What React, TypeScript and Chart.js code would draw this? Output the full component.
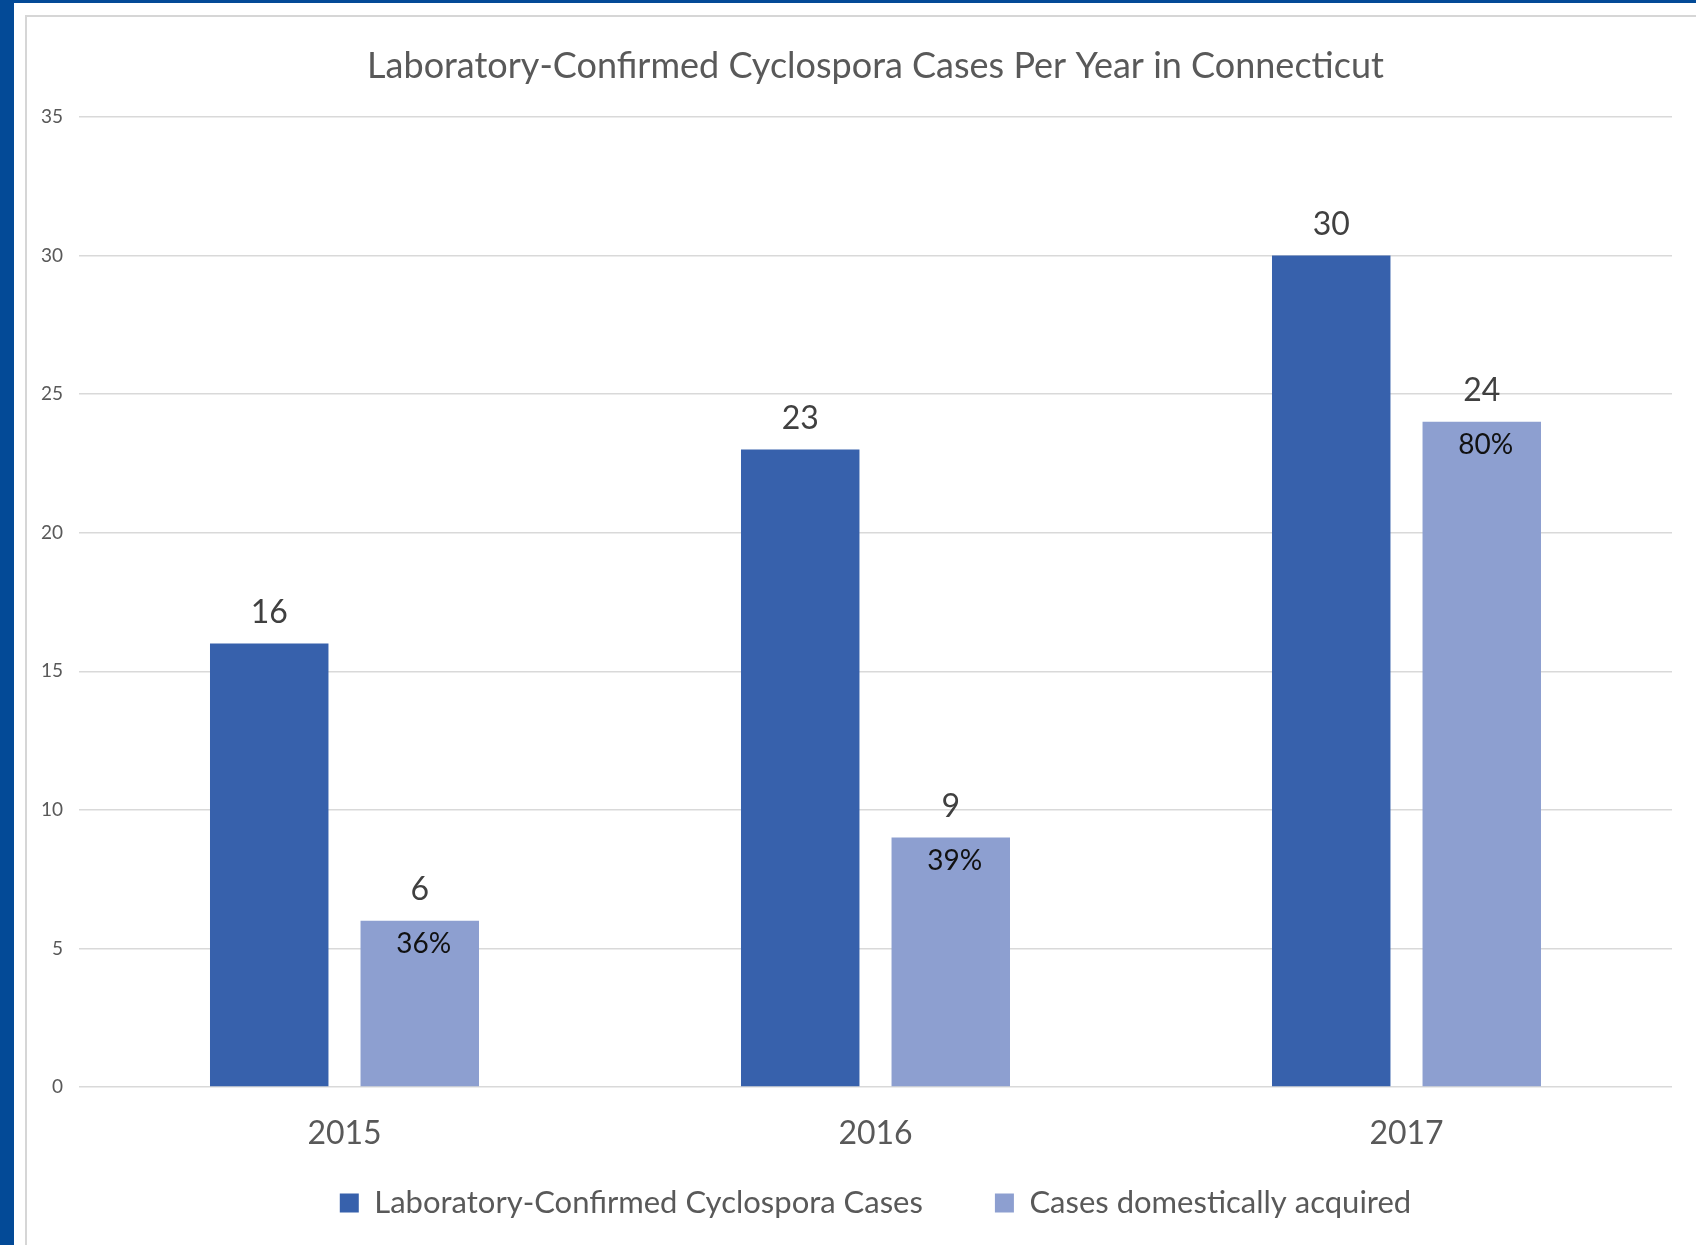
import React, { useEffect, useRef } from "react";
import { Chart, registerables } from "chart.js";

Chart.register(...registerables);

const categories = ["2015", "2016", "2017"];
const labConfirmed = [16, 23, 30];
const domestic = [6, 9, 24];
const domesticPct = ["36%", "39%", "80%"];
const yTicks = [0, 5, 10, 15, 20, 25, 30, 35];
const seriesNames = ["Laboratory-Confirmed Cyclospora Cases", "Cases domestically acquired"];
const titleText = "Laboratory-Confirmed Cyclospora Cases Per Year in Connecticut";

const FONT = "Lato, 'Noto Sans', sans-serif";

const labelPlugin = {
  id: "barLabels",
  afterDatasetsDraw(chart: any) {
    const ctx = chart.ctx;
    ctx.save();
    chart.data.datasets.forEach((ds: any, di: number) => {
      const meta = chart.getDatasetMeta(di);
      meta.data.forEach((bar: any, i: number) => {
        ctx.font = `32px ${FONT}`;
        ctx.fillStyle = "#404040";
        ctx.textAlign = "center";
        ctx.textBaseline = "alphabetic";
        ctx.fillText(String(ds.data[i]), bar.x, bar.y - 21);
        if (di === 1) {
          ctx.font = `28px ${FONT}`;
          ctx.fillStyle = "#111111";
          ctx.textBaseline = "middle";
          ctx.fillText(domesticPct[i], bar.x + 4, bar.y + 23);
        }
      });
    });
    ctx.restore();
  },
};

// The reference legend has wide item spacing but sits close to the axis labels;
// place the legend box explicitly after layout.
const legendPlace = {
  id: "legendPlace",
  afterLayout(chart: any) {
    const lg = chart.legend;
    if (!lg) return;
    lg.top = chart.chartArea.bottom + 28.5;
    lg.height = 120;
    lg.bottom = lg.top + lg.height;
  },
};

export default function App() {
  const ref = useRef<HTMLCanvasElement | null>(null);
  useEffect(() => {
    if (!ref.current) return;
    const chart = new Chart(ref.current, {
      type: "bar",
      data: {
        labels: categories,
        datasets: [
          {
            label: seriesNames[0],
            data: labConfirmed,
            backgroundColor: "#3761AC",
            categoryPercentage: 0.567,
            barPercentage: 0.787,
          },
          {
            label: seriesNames[1],
            data: domestic,
            backgroundColor: "#8D9FD0",
            categoryPercentage: 0.567,
            barPercentage: 0.787,
          },
        ],
      },
      options: {
        animation: false,
        responsive: false,
        devicePixelRatio: 1,
        layout: { padding: { left: 0, right: 24, top: 0, bottom: 0 } },
        plugins: {
          title: {
            display: true,
            text: titleText,
            fullSize: false,
            color: "#595959",
            font: { family: FONT, size: 36, weight: "normal" },
            padding: { top: 45, bottom: 28.8 },
          },
          legend: {
            position: "bottom",
            fullSize: false,
            maxHeight: 92,
            labels: {
              color: "#595959",
              font: { family: FONT, size: 31 },
              boxWidth: 19,
              boxHeight: 19,
              padding: 72,
            },
          },
          tooltip: { enabled: false },
        },
        scales: {
          x: {
            grid: { display: false, drawTicks: false },
            border: { display: false },
            ticks: {
              color: "#595959",
              font: { family: FONT, size: 32 },
              padding: 27,
            },
            afterFit(scale: any) {
              scale.height = 66;
            },
          },
          y: {
            min: 0,
            max: 35,
            afterBuildTicks(scale: any) {
              scale.ticks = yTicks.map((v) => ({ value: v }));
            },
            grid: { color: "#D9D9D9", lineWidth: 1.5, drawTicks: false },
            border: { display: false },
            ticks: {
              color: "#595959",
              font: { family: FONT, size: 19 },
              padding: 16,
            },
            afterFit(scale: any) {
              scale.width = 79;
            },
          },
        },
      },
      plugins: [labelPlugin, legendPlace],
    } as any);
    return () => chart.destroy();
  }, []);

  return (
    <div
      style={{
        position: "fixed",
        left: 0,
        top: 0,
        width: 1696,
        height: 1245,
        background: "#034A97",
        overflow: "hidden",
      }}
    >
      <div
        style={{
          position: "absolute",
          left: 14,
          top: 3,
          width: 1682,
          height: 1242,
          background: "#ffffff",
        }}
      />
      <div
        style={{
          position: "absolute",
          left: 25,
          top: 15,
          width: 1671,
          height: 1230,
          borderLeft: "2px solid #D6D6D6",
          borderTop: "2px solid #D6D6D6",
          boxSizing: "border-box",
        }}
      />
      <canvas
        ref={ref}
        width={1696}
        height={1245}
        style={{ position: "absolute", left: 0, top: 0, width: 1696, height: 1245 }}
      />
    </div>
  );
}
